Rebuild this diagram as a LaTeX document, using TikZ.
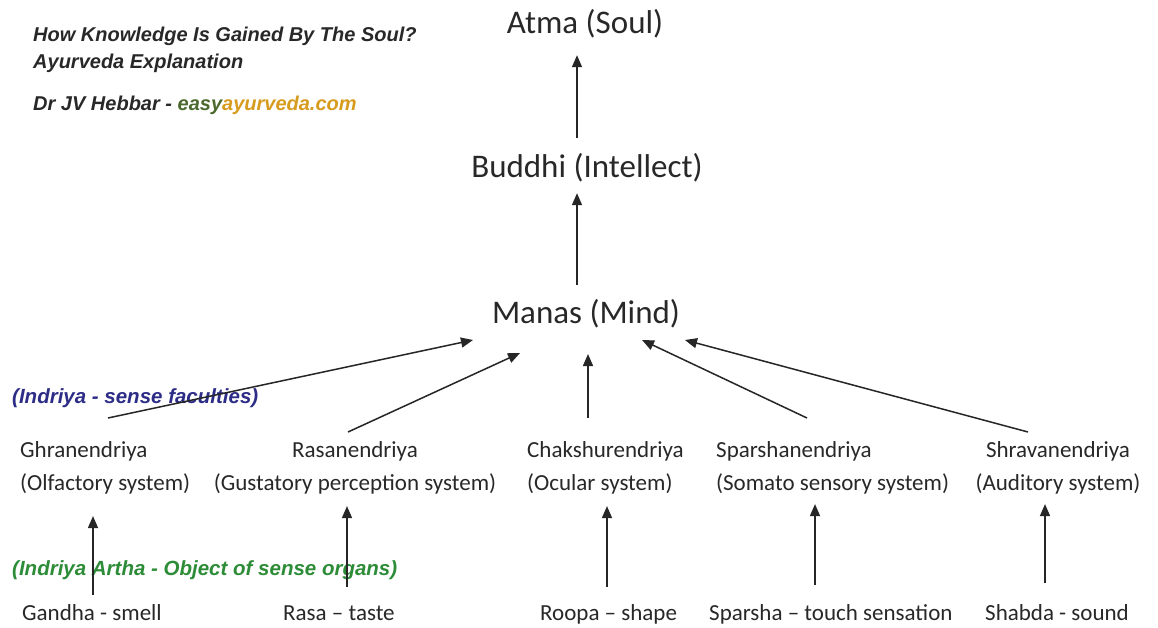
\documentclass[tikz,border=0pt]{standalone}
\usepackage{fontspec}
\setmainfont{Carlito}
\newfontfamily\headfont{Liberation Sans}
\usetikzlibrary{arrows.meta,calc}

\definecolor{inktext}{RGB}{40,40,40}
\definecolor{indriyablue}{RGB}{45,45,135}
\definecolor{arthagreen}{RGB}{45,140,55}
\definecolor{easygreen}{RGB}{75,105,45}
\definecolor{easygold}{RGB}{215,155,30}

\begin{document}
\begin{tikzpicture}[x=1pt, y=-1pt,
  level/.style={font=\fontsize{33}{40}\selectfont, text=inktext, inner sep=0pt,
    text height=21pt, text depth=0pt, anchor=base},
  organ/.style={font=\fontsize{23}{33}\selectfont, text=inktext, inner sep=0pt},
  object/.style={font=\fontsize{23}{28}\selectfont, text=inktext, inner sep=0pt,
    anchor=base west},
  tag/.style={font=\headfont\bfseries\itshape\fontsize{20.5}{24}\selectfont,
    inner sep=0pt, anchor=base west},
  head/.style={font=\headfont\bfseries\itshape\fontsize{20}{24}\selectfont,
    text=inktext, inner sep=0pt, anchor=base west},
  arr/.style={-{Triangle[length=12pt, width=10pt]}, line width=1.5pt, draw=black!85},
]
  \useasboundingbox[fill=white] (0,0) rectangle (1158,627);

  % Heading, top left
  \node[head] (title) at (33,41) {How Knowledge Is Gained By The Soul?};
  \node[head] (subtitle) at (33,68) {Ayurveda Explanation};
  \node[head] (author) at (33,110)
    {Dr JV Hebbar - {\color{easygreen}easy}{\color{easygold}ayurveda.com}};

  % Atma <- Buddhi <- Manas
  \node[level] (atma) at (585,33) {Atma (Soul)};
  \node[level] (buddhi) at (587,177) {Buddhi (Intellect)};
  \node[level] (manas) at (586,323) {Manas (Mind)};
  \draw[arr, shorten <=18pt, shorten >=22pt] (buddhi.north -| 577,0) -- (atma.south -| 577,0);
  \draw[arr, shorten <=17pt, shorten >=16pt] (manas.north -| 577,0) -- (buddhi.south -| 577,0);

  % Group labels
  \node[tag, text=indriyablue] (indriya) at (12,403) {(Indriya - sense faculties)};
  \node[tag, text=arthagreen] (artha) at (12,575) {(Indriya Artha - Object of sense organs)};

  % Indriya: the five sense faculties
  \node[organ, anchor=north west, align=left] (ghrana) at (20,441)
    {Ghranendriya\\(Olfactory system)};
  \node[organ, anchor=north, align=center] (rasana) at (355,441)
    {Rasanendriya\\(Gustatory perception system)};
  \node[organ, anchor=north west, align=left] (chakshu) at (527,441)
    {Chakshurendriya\\(Ocular system)};
  \node[organ, anchor=north west, align=left] (sparshana) at (716,441)
    {Sparshanendriya\\(Somato sensory system)};
  \node[organ, anchor=north, align=center] (shravana) at (1058,441)
    {Shravanendriya\\(Auditory system)};

  % Indriya Artha: the objects
  \node[object] (gandha) at (22,620) {Gandha - smell};
  \node[object] (rasa) at (283,620) {Rasa – taste};
  \node[object] (roopa) at (540,620) {Roopa – shape};
  \node[object] (sparsha) at (709,620) {Sparsha – touch sensation};
  \node[object] (shabda) at (985,620) {Shabda - sound};

  % Faculties -> Manas
  \foreach \n/\x/\y in {1/473/340, 2/520/353, 3/588/354, 4/642/340, 5/685/340}
    \coordinate (in\n) at (\x,\y);
  \foreach \f/\x/\dy/\t in {ghrana/108/-23/in1, rasana/348/-9/in2, chakshu/588/-23/in3,
      sparshana/807/-23/in4, shravana/1028/-9/in5}
    \draw[arr] ($(\f.north -| \x,0)+(0,\dy)$) -- (\t);

  % Objects -> faculties
  \foreach \o/\f/\x/\a/\b in {gandha/ghrana/93/9/22, rasa/rasana/347/18/12,
      roopa/chakshu/607/17/12, sparsha/sparshana/815/19/10, shabda/shravana/1045/21/10}
    \draw[arr, shorten <=\a pt, shorten >=\b pt] (\o.north -| \x,0) -- (\f.south -| \x,0);
\end{tikzpicture}
\end{document}
